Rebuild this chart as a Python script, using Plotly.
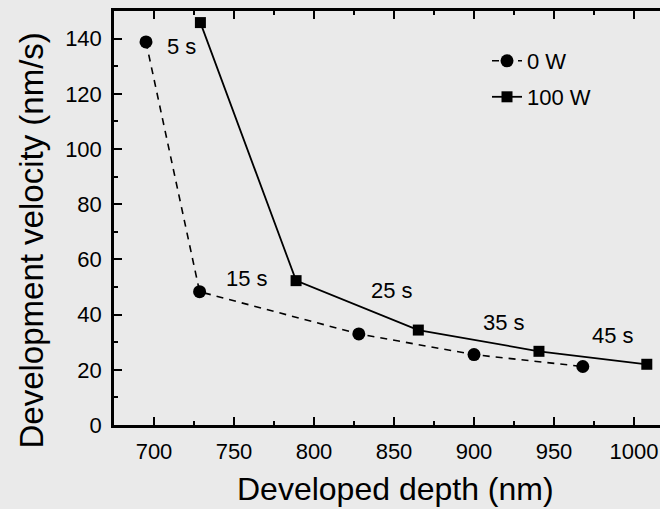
import plotly.graph_objects as go

# 0 W series
depth_0w = [695, 728.5, 828, 900, 968]
vel_0w = [138.8, 48.3, 33.0, 25.5, 21.2]

# 100 W series
depth_100w = [729, 788.8, 865.2, 940.6, 1008]
vel_100w = [145.8, 52.3, 34.4, 26.7, 22.0]

# time labels
time_labels = ["5 s", "15 s", "25 s", "35 s", "45 s"]
label_x = [717, 758, 849, 919, 987]
label_y = [137, 53, 48.6, 37, 32.3]

x_title = "Developed depth (nm)"
y_title = "Development velocity (nm/s)"

FONT = "Liberation Sans, Arial, sans-serif"
BG = "#eaeaea"

fig = go.Figure()
fig.add_trace(go.Scatter(
    x=depth_0w, y=vel_0w, mode="lines+markers", name="0 W",
    line=dict(color="black", width=1.6, dash="7px,6px"),
    marker=dict(symbol="circle", size=13, color="black"),
    legend="legend",
))
fig.add_trace(go.Scatter(
    x=depth_100w, y=vel_100w, mode="lines+markers", name="100 W",
    line=dict(color="black", width=1.8),
    marker=dict(symbol="square", size=11, color="black"),
    legend="legend2",
))

for t, x, y in zip(time_labels, label_x, label_y):
    fig.add_annotation(x=x, y=y, text=t, showarrow=False,
                       font=dict(size=22, color="black", family=FONT))

# axis titles as annotations for exact placement
fig.add_annotation(xref="paper", yref="paper", x=(395 - 114) / 546, y=(425 - 488.5) / 414,
                   text=x_title, showarrow=False, xanchor="center", yanchor="middle",
                   font=dict(size=32, color="black", family=FONT))
fig.add_annotation(xref="paper", yref="paper", x=(30.5 - 114) / 546, y=(425 - 241) / 414,
                   text=y_title, showarrow=False, xanchor="center", yanchor="middle",
                   textangle=-90, font=dict(size=33, color="black", family=FONT))

leg_common = dict(xanchor="left", yanchor="middle", bgcolor="rgba(0,0,0,0)",
                  font=dict(size=22), borderwidth=0)
fig.update_layout(
    width=660, height=509,
    paper_bgcolor=BG, plot_bgcolor=BG,
    margin=dict(l=114, r=0, t=11, b=84),
    font=dict(family=FONT, color="black"),
    showlegend=True,
    legend=dict(x=(487 - 114) / 546, y=(425 - 61) / 414, **leg_common),
    legend2=dict(x=(487 - 114) / 546, y=(425 - 97) / 414, **leg_common),
)
fig.update_xaxes(
    range=[675, 1016.25], showgrid=False, zeroline=False,
    showline=True, linewidth=2.5, linecolor="black", mirror="allticks",
    ticks="inside", ticklen=8, tickwidth=2, tickcolor="black",
    tickvals=[700, 750, 800, 850, 900, 950, 1000],
    minor=dict(ticks="inside", ticklen=4, tickwidth=2, tickcolor="black", dtick=25, tick0=0, showgrid=False),
    tickfont=dict(size=22), ticklabelstandoff=5,
)
fig.update_yaxes(
    range=[0, 150], showgrid=False, zeroline=False,
    showline=True, linewidth=2.5, linecolor="black", mirror=False,
    ticks="inside", ticklen=8, tickwidth=2, tickcolor="black",
    tickvals=[0, 20, 40, 60, 80, 100, 120, 140],
    minor=dict(ticks="inside", ticklen=4, tickwidth=2, tickcolor="black", dtick=10, tick0=0, showgrid=False),
    tickfont=dict(size=22), ticklabelstandoff=5,
)

fig.write_html("out.html", config={"displayModeBar": False},
               post_script="document.body.style.margin='0';document.body.style.overflow='hidden';")
